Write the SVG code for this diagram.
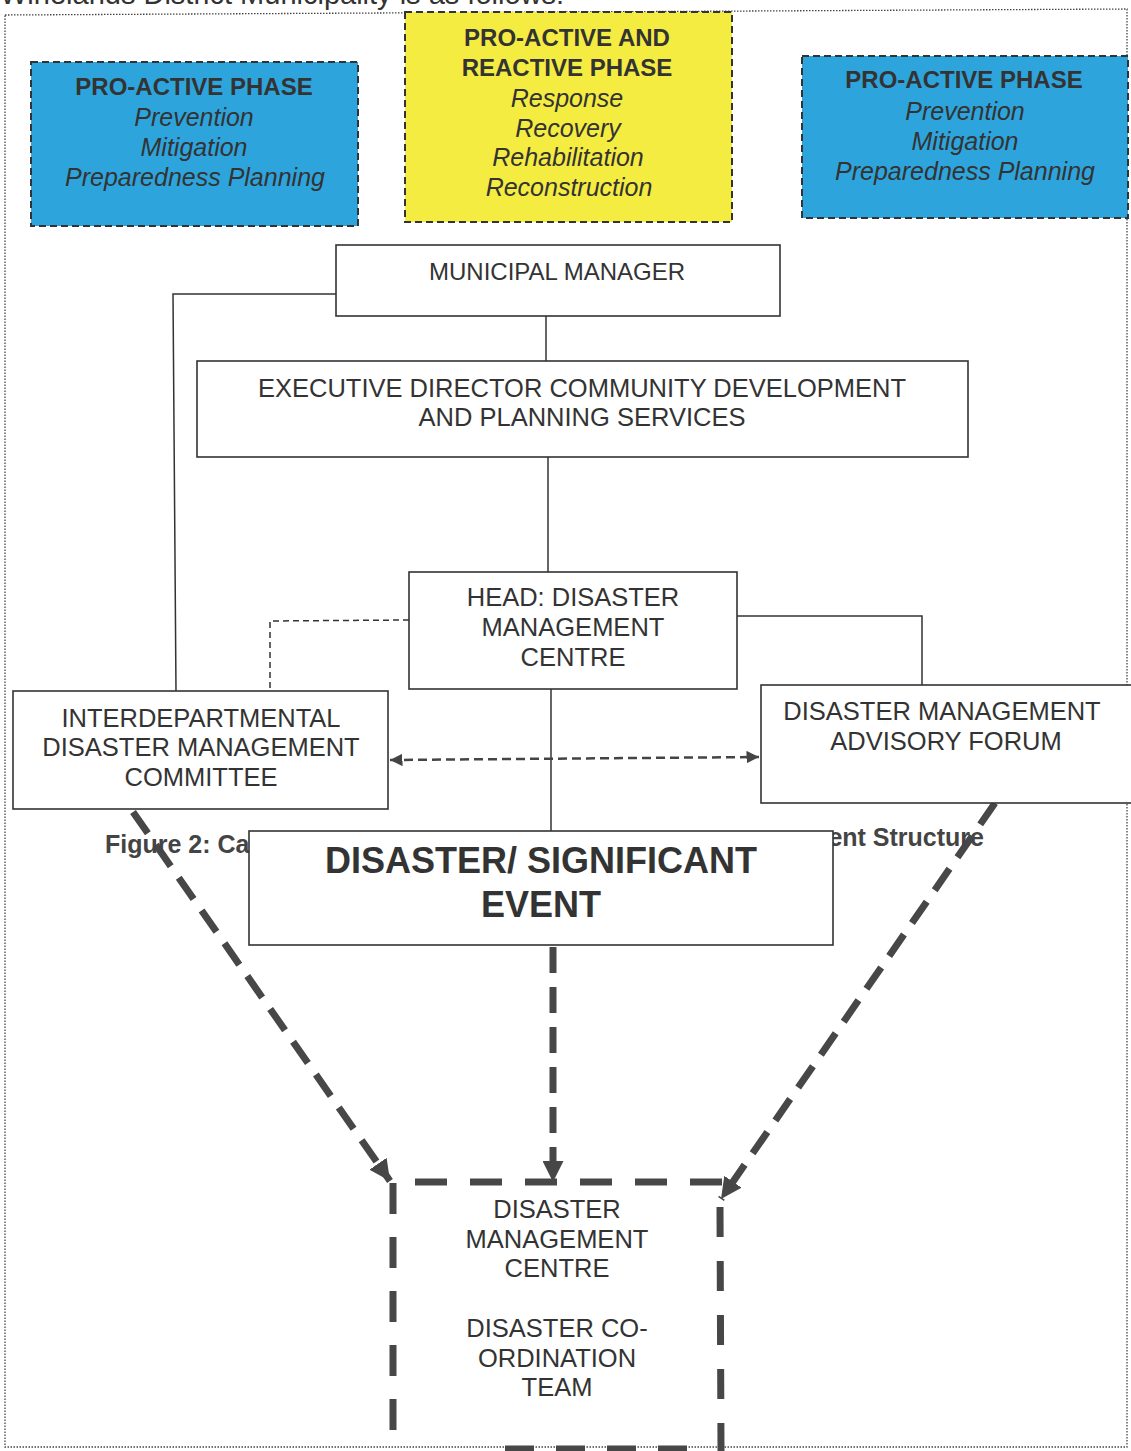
<svg xmlns="http://www.w3.org/2000/svg" width="1131" height="1451" viewBox="0 0 1131 1451">
<defs>
<style>
text{font-family:"Liberation Sans",Arial,sans-serif;fill:#333;text-anchor:middle}
.h{font-weight:bold;font-size:24px}
.i{font-style:italic;font-size:25px}
.n{font-size:25.5px}
.box{fill:#fff;stroke:#333;stroke-width:1.6}
.phase{stroke:#333;stroke-width:2;stroke-dasharray:7 4}
.thin{fill:none;stroke:#333;stroke-width:1.5}
.thindash{fill:none;stroke:#333;stroke-width:1.5;stroke-dasharray:6 4}
.thick{fill:none;stroke:#474747;stroke-width:7;stroke-dasharray:26 14}
.boxdash{fill:none;stroke:#474747;stroke-width:7;stroke-dasharray:31 23}
.cap{font-size:25px;font-weight:bold;fill:#444}
</style>
<marker id="ah" viewBox="0 0 10 10" refX="10" refY="5" markerWidth="5" markerHeight="5" orient="auto-start-reverse" markerUnits="strokeWidth">
<path d="M0,0 L10,5 L0,10 Z" fill="#444"/>
</marker>
<marker id="ahb" viewBox="0 0 10 10" refX="10" refY="5" markerWidth="3" markerHeight="3" orient="auto" markerUnits="strokeWidth">
<path d="M0,0 L10,5 L0,10 Z" fill="#474747"/>
</marker>
</defs>
<rect width="1131" height="1451" fill="#fff"/>
<text x="0" y="4" style="font-size:29px;text-anchor:start">Winelands District Municipality is as follows:</text>
<path d="M5,15 L1127,9 L1127,1447 L5,1447 Z" fill="none" stroke="#444" stroke-width="1.3" stroke-dasharray="1.5 1.5"/>

<g id="phase-left">
<rect x="31" y="62" width="327" height="164" fill="#2ea4dd" class="phase"/>
<text x="194" y="95" class="h">PRO-ACTIVE PHASE</text>
<text x="194" y="126" class="i">Prevention</text>
<text x="194" y="156" class="i">Mitigation</text>
<text x="195" y="186" class="i">Preparedness Planning</text>
</g>
<g id="phase-middle">
<rect x="405" y="12" width="327" height="210" fill="#f5ec42" class="phase"/>
<text x="567" y="46" class="h">PRO-ACTIVE AND</text>
<text x="567" y="76" class="h">REACTIVE PHASE</text>
<text x="567" y="107" class="i">Response</text>
<text x="568" y="137" class="i">Recovery</text>
<text x="568" y="166" class="i">Rehabilitation</text>
<text x="569" y="196" class="i">Reconstruction</text>
</g>
<g id="phase-right">
<rect x="802" y="56" width="326" height="162" fill="#2ea4dd" class="phase"/>
<text x="964" y="88" class="h">PRO-ACTIVE PHASE</text>
<text x="965" y="120" class="i">Prevention</text>
<text x="965" y="150" class="i">Mitigation</text>
<text x="965" y="180" class="i">Preparedness Planning</text>
</g>

<g id="connectors">
<path class="thin" d="M546,316 L546,361"/>
<path class="thin" d="M336,294 L173,294 L176,691"/>
<path class="thin" d="M548,457 L548,572"/>
<path class="thindash" d="M409,620 L270,621 L270,691"/>
<path class="thin" d="M737,616 L922,616 L922,685"/>
<path class="thin" d="M551,689 L551,832"/>
<path fill="none" stroke="#444" stroke-width="2.5" stroke-dasharray="9 5" d="M390,760 L759,757" marker-start="url(#ah)" marker-end="url(#ah)"/>
<path class="thick" d="M133,812 L390,1181" marker-end="url(#ahb)"/>
<path class="thick" d="M995,803 L721,1199" marker-end="url(#ahb)"/>
<path class="thick" d="M553,947 L553,1182" marker-end="url(#ahb)"/>
</g>

<g id="municipal-manager">
<rect x="336" y="245" width="444" height="71" class="box"/>
<text x="557" y="280" style="font-size:24px">MUNICIPAL MANAGER</text>
</g>
<g id="executive-director">
<rect x="197" y="361" width="771" height="96" class="box"/>
<text x="582" y="397" class="n">EXECUTIVE DIRECTOR COMMUNITY DEVELOPMENT</text>
<text x="582" y="426" class="n">AND PLANNING SERVICES</text>
</g>
<g id="head-dmc">
<rect x="409" y="572" width="328" height="117" class="box"/>
<text x="573" y="606" class="n">HEAD: DISASTER</text>
<text x="573" y="636" class="n">MANAGEMENT</text>
<text x="573" y="666" class="n">CENTRE</text>
</g>
<g id="idmc">
<rect x="13" y="691" width="375" height="118" class="box"/>
<text x="201" y="727" class="n">INTERDEPARTMENTAL</text>
<text x="201" y="756" class="n">DISASTER MANAGEMENT</text>
<text x="201" y="786" class="n">COMMITTEE</text>
</g>
<g id="dmaf">
<rect x="761" y="685" width="375" height="118" class="box"/>
<text x="942" y="720" class="n">DISASTER MANAGEMENT</text>
<text x="946" y="750" class="n">ADVISORY FORUM</text>
</g>

<g id="caption">
<text x="105" y="853" class="cap" style="text-anchor:start">Figure 2: Ca</text>
<text x="984" y="846" class="cap" style="text-anchor:end">ent Structure</text>
</g>

<g id="disaster-event">
<rect x="249" y="831" width="584" height="114" class="box"/>
<text x="541" y="873" style="font-size:36px;font-weight:bold">DISASTER/ SIGNIFICANT</text>
<text x="541" y="917" style="font-size:36px;font-weight:bold">EVENT</text>
</g>

<g id="dmc-team">
<path class="boxdash" d="M393,1183 L393,1451"/>
<path class="boxdash" d="M415,1182 L722,1182" style="stroke-dasharray:32 23"/>
<path class="boxdash" d="M720,1207 L721,1451" style="stroke-dasharray:30 24"/>
<path class="boxdash" d="M505,1449 L700,1449" style="stroke-dasharray:29 22"/>
<text x="557" y="1218" class="n">DISASTER</text>
<text x="557" y="1248" class="n">MANAGEMENT</text>
<text x="557" y="1277" class="n">CENTRE</text>
<text x="557" y="1337" class="n">DISASTER CO-</text>
<text x="557" y="1367" class="n">ORDINATION</text>
<text x="557" y="1396" class="n">TEAM</text>
</g>
</svg>
